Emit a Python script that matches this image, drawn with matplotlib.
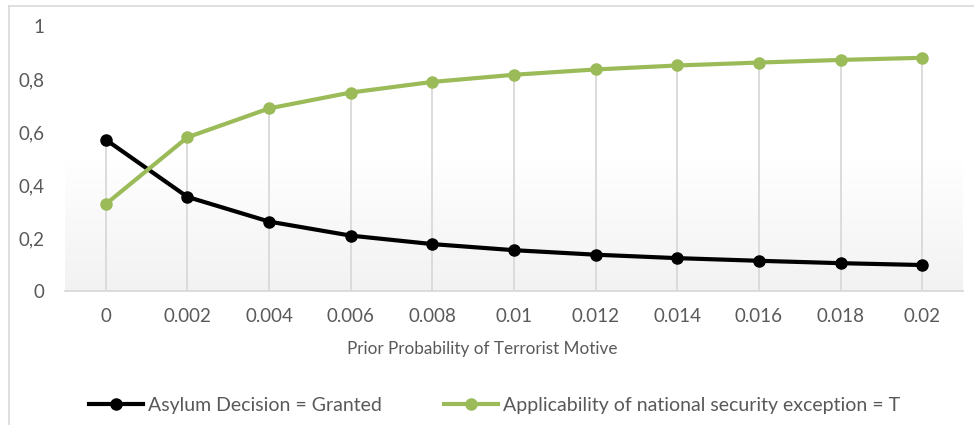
import numpy as np
import matplotlib
matplotlib.use('Agg')
import matplotlib.pyplot as plt
from matplotlib.lines import Line2D
from matplotlib.colors import LinearSegmentedColormap

# data
categories = ['0', '0.002', '0.004', '0.006', '0.008', '0.01',
              '0.012', '0.014', '0.016', '0.018', '0.02']
granted = [0.571, 0.355, 0.262, 0.209, 0.177, 0.154, 0.137, 0.124, 0.114, 0.105, 0.098]
exception = [0.328, 0.580, 0.689, 0.749, 0.789, 0.816, 0.836, 0.851, 0.862, 0.872, 0.880]
y_ticks = [0, 0.2, 0.4, 0.6, 0.8, 1.0]
y_labels = ['0', '0,2', '0,4', '0,6', '0,8', '1']

TEXT = '#595959'
GRID = '#d9d9d9'
GREEN = '#9bbb59'
plt.rcParams['font.family'] = ['Lato', 'DejaVu Sans']

W, H = 974, 425
fig = plt.figure(figsize=(W / 100, H / 100), dpi=100)
ax = fig.add_axes([65 / W, (H - 291) / H, (963 - 65) / W, (291 - 26) / H])

x = np.arange(len(categories))

# soft gradient fill of the plot area
cmap = LinearSegmentedColormap.from_list('bg', ['#ffffff', '#ffffff', '#f2f2f2'])
ax.imshow(np.linspace(0, 1, 256).reshape(-1, 1), extent=[-0.5, 10.5, 0, 1],
          aspect='auto', cmap=cmap, origin='upper', zorder=0)

# drop lines
ax.vlines(x, 0, np.maximum(granted, exception), color=GRID, lw=1.3, zorder=1)

ax.plot(x, granted, color='black', lw=3, marker='o', ms=8, zorder=3,
        label='Asylum Decision = Granted')
ax.plot(x, exception, color=GREEN, lw=3, marker='o', ms=8, zorder=4,
        label='Applicability of national security exception = T')

ax.set_xlim(-0.5, 10.5)
ax.set_ylim(0, 1)
ax.set_xticks(x)
ax.set_xticklabels(categories)
ax.set_yticks(y_ticks)
ax.set_yticklabels(y_labels)
ax.tick_params(length=0, labelsize=13.5, colors=TEXT)
ax.tick_params(axis='y', pad=15)
ax.tick_params(axis='x', pad=12)
for s in ['top', 'right', 'left']:
    ax.spines[s].set_visible(False)
ax.spines['bottom'].set_color(GRID)
ax.spines['bottom'].set_linewidth(1.3)
ax.spines['bottom'].set_zorder(2)

fig.text(482 / W, 1 - 349 / H, 'Prior Probability of Terrorist Motive',
         ha='center', va='center', fontsize=12.3, color=TEXT)

handles, labels = ax.get_legend_handles_labels()
leg = fig.legend(handles, labels, loc='center', bbox_to_anchor=(494.5 / W, 1 - 405 / H),
                 ncol=2, frameon=False, handlelength=2.8, handletextpad=0.25,
                 columnspacing=3.2, fontsize=14)
for t in leg.get_texts():
    t.set_color(TEXT)

# chart border (only top and left are in frame)
fig.add_artist(Line2D([8.7 / W, 8.7 / W], [0, 1 - 6.3 / H], transform=fig.transFigure,
                      color=GRID, lw=1.2))
fig.add_artist(Line2D([8.7 / W, 1], [1 - 6.3 / H, 1 - 6.3 / H], transform=fig.transFigure,
                      color=GRID, lw=1.2))

fig.savefig('out.png', dpi=100)
